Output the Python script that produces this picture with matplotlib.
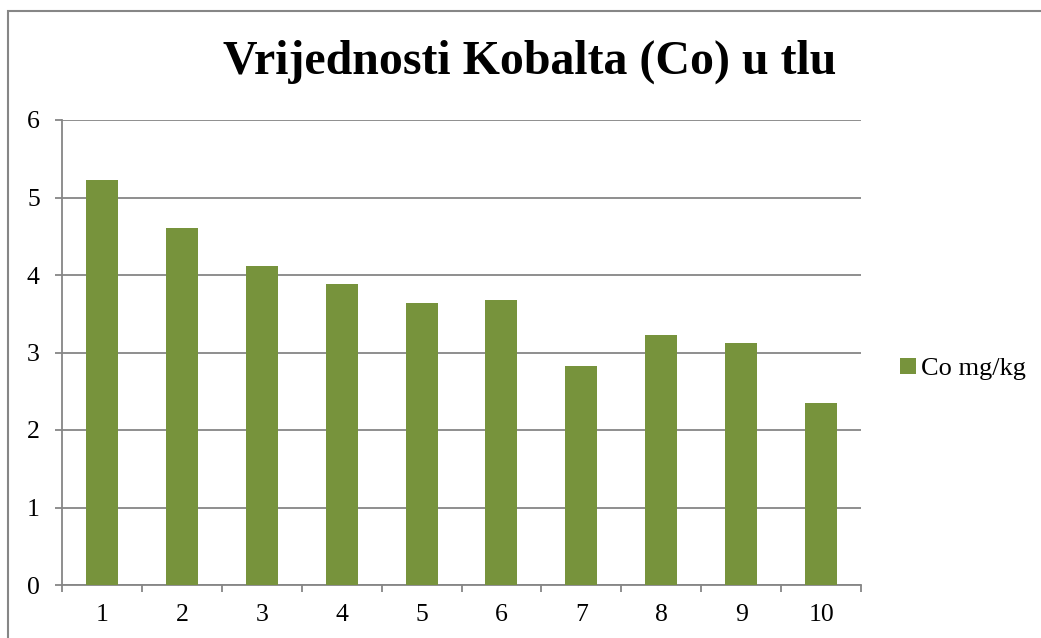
import matplotlib
matplotlib.use('Agg')
from matplotlib import pyplot as plt
from matplotlib.patches import Rectangle
import numpy

# data
samples = ['1', '2', '3', '4', '5', '6', '7', '8', '9', '10']
co_values = [5.23, 4.61, 4.12, 3.89, 3.64, 3.68, 2.82, 3.22, 3.12, 2.35]
series_name = 'Co mg/kg'
title = 'Vrijednosti Kobalta (Co) u tlu'

bar_color = '#77933C'
axis_color = '#868686'

plt.rcParams['font.family'] = ['Liberation Serif', 'DejaVu Serif']

fig = plt.figure(figsize=(10.41, 6.38), dpi=100)
ax = fig.add_axes([62 / 1041, 1 - 585 / 638, (861 - 62) / 1041, (585 - 120) / 638])

x = numpy.arange(len(samples))
ax.bar(x, co_values, width=0.4, color=bar_color, label=series_name, zorder=3)

ax.set_xlim(-0.5, len(samples) - 0.5)
ax.set_ylim(0, 6)
ax.set_yticks(range(0, 7))
ax.set_xticks(x)
ax.set_xticklabels(samples)
ax.set_xticks(numpy.arange(-0.5, len(samples)), minor=True)

ax.grid(axis='y', color=axis_color, linewidth=1.3, zorder=0)
for side in ['top', 'right']:
    ax.spines[side].set_visible(False)
for side in ['left', 'bottom']:
    ax.spines[side].set_color(axis_color)
    ax.spines[side].set_linewidth(1.3)

ax.tick_params(axis='y', direction='out', length=5, width=1.3, color=axis_color,
               labelsize=18.5, pad=11)
ax.tick_params(axis='x', which='major', length=0, labelsize=18.5, pad=14)
ax.tick_params(axis='x', which='minor', direction='out', length=5, width=1.3,
               color=axis_color)

fig.text(530 / 1041, 1 - 62 / 638, title, ha='center', va='center',
         fontsize=34.5, fontweight='bold')

fig.legend(loc='center left', bbox_to_anchor=(900 / 1041, 1 - 369 / 638),
           frameon=False, fontsize=19, handlelength=0.6, handleheight=0.6,
           handletextpad=0.2, borderpad=0, borderaxespad=0)

# chart area border (only top and left edges show in the crop)
fig.patches.append(Rectangle((8 / 1041, -0.1), 1.2, 1 - 11 / 638 + 0.1,
                             transform=fig.transFigure, fill=False,
                             edgecolor=axis_color, linewidth=1.5))

fig.savefig('out.png', dpi=100)
